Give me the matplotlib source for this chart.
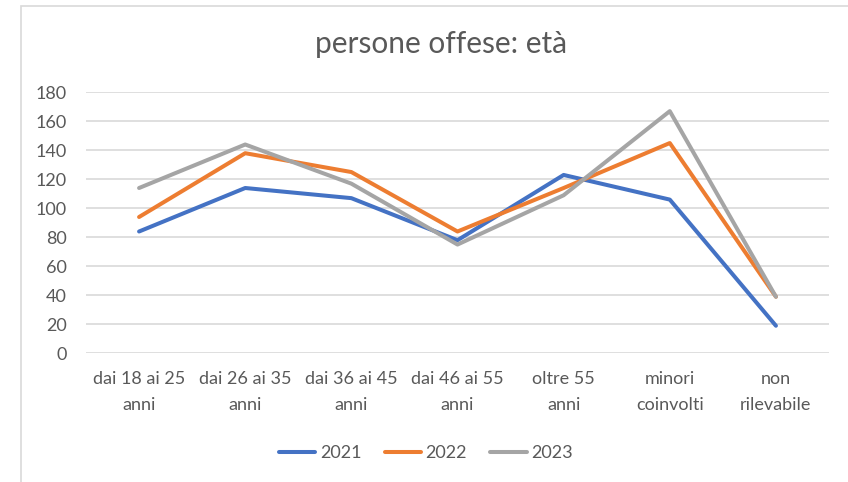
import matplotlib
matplotlib.use("Agg")
import matplotlib.pyplot as plt
from matplotlib.patches import Rectangle

categories = ["dai 18 ai 25\nanni", "dai 26 ai 35\nanni", "dai 36 ai 45\nanni",
              "dai 46 ai 55\nanni", "oltre 55\nanni", "minori\ncoinvolti", "non\nrilevabile"]
s2021 = [84, 114, 107, 78, 123, 106, 19]
s2022 = [94, 138, 125, 84, 114, 145, 39]
s2023 = [114, 144, 117, 75, 109, 167, 39]
yticks = [0, 20, 40, 60, 80, 100, 120, 140, 160, 180]
title = "persone offese: età"

plt.rcParams['font.family'] = ['Lato', 'DejaVu Sans']
txt = "#595959"

fig = plt.figure(figsize=(8.48, 4.82), dpi=100)
fig.patches.append(Rectangle((21/848, -0.1), 1.2, 1 - 6/482 + 0.1, transform=fig.transFigure,
                             fill=False, edgecolor="#D9D9D9", linewidth=1.2))
ax = fig.add_axes([86/848, 1 - 353.3/482, (829-86)/848, (353.3-92.3)/482])
x = list(range(len(categories)))
for vals, col, lab in [(s2021, "#4472C4", "2021"), (s2022, "#ED7D31", "2022"), (s2023, "#A5A5A5", "2023")]:
    ax.plot(x, vals, color=col, lw=2.9, label=lab, solid_joinstyle="round", solid_capstyle="round")

ax.set_xlim(-0.5, len(categories) - 0.5)
ax.set_ylim(0, 180)
ax.set_yticks(yticks)
ax.set_xticks(x)
ax.set_xticklabels(categories, linespacing=1.75)
ax.tick_params(axis='both', length=0, labelsize=13, labelcolor=txt)
ax.tick_params(axis='y', pad=14)
ax.tick_params(axis='x', pad=13)
ax.grid(axis='y', color="#D9D9D9", lw=1.2)
ax.set_axisbelow(True)
for s in ax.spines.values():
    s.set_visible(False)

fig.text(441/848, 1 - 44/482, title, ha='center', va='center', fontsize=21.5, color=txt)
leg = fig.legend(loc='center', bbox_to_anchor=(426/848, 1 - 453/482), ncol=3, frameon=False,
                 fontsize=13, handlelength=2.0, handletextpad=0.25, columnspacing=1.3,
                 labelcolor=txt)
fig.savefig("out.png", dpi=100)
